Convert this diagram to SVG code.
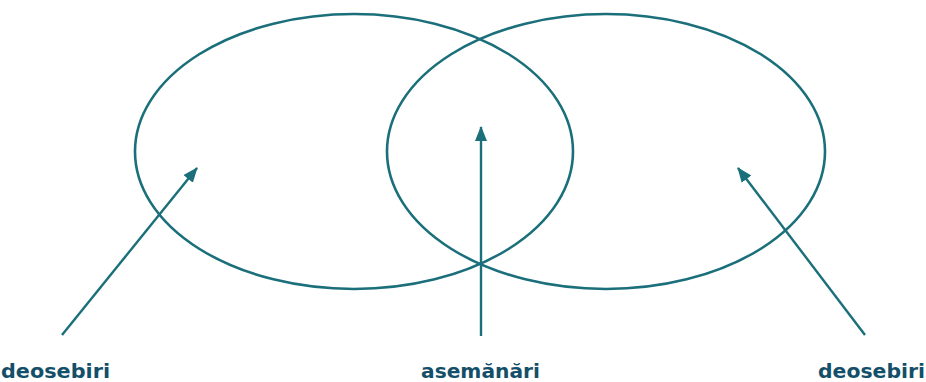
<svg xmlns="http://www.w3.org/2000/svg" width="926" height="382" viewBox="0 0 926 382">
<style>
.ell{fill:none;stroke:#1a6f7a;stroke-width:2.6}
.con{stroke:#1a6f7a;stroke-width:2.4;fill:none}
.lbl{font-family:"DejaVu Sans","Liberation Sans",Arial,sans-serif;font-weight:bold;font-size:19px;fill:#144f6a}
</style>
<defs>
<marker id="ah" markerUnits="userSpaceOnUse" markerWidth="16" markerHeight="12" refX="14" refY="6" orient="auto">
<path d="M0,0 L15,6 L0,12 Z" fill="#1a6f7a"/>
</marker>
</defs>
<rect width="926" height="382" fill="#ffffff"/>
<g id="left-set"><ellipse class="ell" cx="354" cy="151.5" rx="219" ry="137.5"/></g>
<g id="right-set"><ellipse class="ell" cx="606" cy="151.5" rx="219" ry="137.5"/></g>
<g id="connectors">
<line class="con" x1="62" y1="335" x2="197" y2="168" marker-end="url(#ah)"/>
<line class="con" x1="481" y1="336" x2="481" y2="127" marker-end="url(#ah)"/>
<line class="con" x1="865" y1="335" x2="738" y2="168" marker-end="url(#ah)"/>
</g>
<g id="label-left"><text class="lbl" x="1" y="378" textLength="109" lengthAdjust="spacingAndGlyphs">deosebiri</text></g>
<g id="label-mid"><text class="lbl" x="421" y="378" textLength="119" lengthAdjust="spacingAndGlyphs">asemănări</text></g>
<g id="label-right"><text class="lbl" x="818" y="378" textLength="107" lengthAdjust="spacingAndGlyphs">deosebiri</text></g>
</svg>
